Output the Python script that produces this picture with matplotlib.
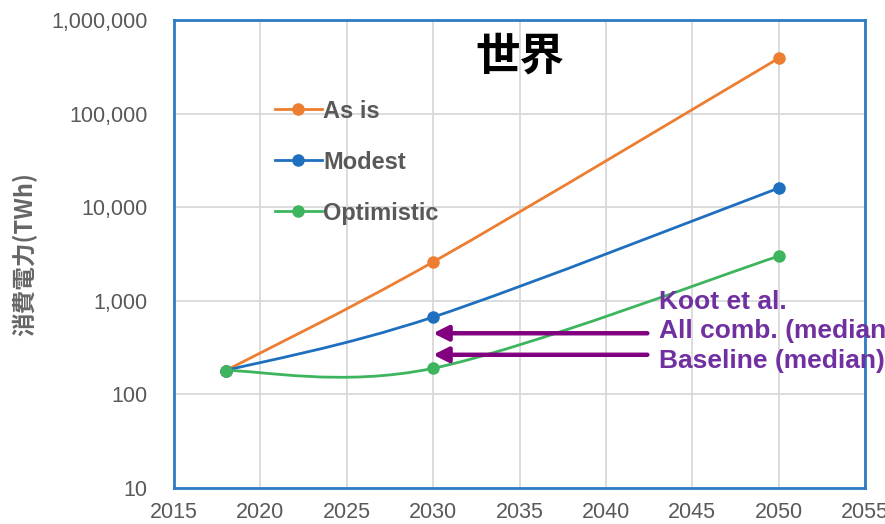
import numpy as np
import matplotlib
matplotlib.use("Agg")
import matplotlib.pyplot as plt
from matplotlib.path import Path
from matplotlib.patches import PathPatch
from matplotlib.lines import Line2D
from matplotlib.ticker import FixedLocator, FuncFormatter

plt.rcParams['font.family'] = ['Liberation Sans', 'Noto Sans CJK JP', 'DejaVu Sans']

# Electricity consumption scenarios (TWh)
years = [2018, 2030, 2050]
as_is = [180, 2600, 390000]
modest = [180, 670, 16000]
optimistic = [180, 190, 3000]
series_names = ["As is", "Modest", "Optimistic"]
series_colors = ["#ED7D31", "#1F6FBF", "#3DB55E"]

# Koot et al. reference medians for 2030
koot_year = 2030
koot_values = [450, 265]
koot_labels = ["Koot et al.", "All comb. (median)", "Baseline (median)"]

title = "世界"
ylabel = "消費電力(TWh)"
x_ticks = [2015, 2020, 2025, 2030, 2035, 2040, 2045, 2050, 2055]
y_ticks = [10, 100, 1000, 10000, 100000, 1000000]

TEXT_GRAY = "#595959"


def smooth_path(xs, ys):
    """Catmull-Rom style cubic Bezier through the points, built in (x, log10 y)."""
    px = np.asarray(xs, dtype=float)
    py = np.log10(np.asarray(ys, dtype=float))
    n = len(px)
    verts = [(px[0], 10 ** py[0])]
    codes = [Path.MOVETO]
    for i in range(n - 1):
        i0 = max(i - 1, 0)
        i3 = min(i + 2, n - 1)
        c1x = px[i] + (px[i + 1] - px[i0]) / 6.0
        c1y = py[i] + (py[i + 1] - py[i0]) / 6.0
        c2x = px[i + 1] - (px[i3] - px[i]) / 6.0
        c2y = py[i + 1] - (py[i3] - py[i]) / 6.0
        verts += [(c1x, 10 ** c1y), (c2x, 10 ** c2y), (px[i + 1], 10 ** py[i + 1])]
        codes += [Path.CURVE4] * 3
    return Path(verts, codes)


fig = plt.figure(figsize=(8.85, 5.24), dpi=100)
ax = fig.add_axes([174 / 885, 1 - 488 / 524, 691 / 885, 468 / 524])

ax.set_yscale("log")
ax.set_xlim(2015, 2055)
ax.set_ylim(10, 1000000)

ax.grid(True, which="major", color="#D9D9D9", linewidth=1.3)
ax.set_axisbelow(True)
ax.xaxis.set_major_locator(FixedLocator(x_ticks))
ax.yaxis.set_major_locator(FixedLocator(y_ticks))
ax.yaxis.set_minor_locator(FixedLocator([]))
ax.yaxis.set_major_formatter(FuncFormatter(lambda v, p: f"{int(round(v)):,}"))
ax.tick_params(axis="both", length=0, labelsize=15.5, labelcolor=TEXT_GRAY)
ax.tick_params(axis="x", pad=10)
ax.tick_params(axis="y", pad=19)

for sp in ax.spines.values():
    sp.set_color("#2E7BC4")
    sp.set_linewidth(2.0)

handles = []
for vals, name, col in zip([as_is, modest, optimistic], series_names, series_colors):
    ax.add_patch(PathPatch(smooth_path(years, vals), facecolor="none",
                           edgecolor=col, linewidth=2.0, zorder=3))
    ax.plot(years, vals, linestyle="none", marker="o", markersize=8,
            color=col, zorder=4, clip_on=False)
    handles.append(Line2D([], [], color=col, linewidth=2.0, marker="o",
                          markersize=8, label=name))

leg = ax.legend(handles=handles, loc="upper left", bbox_to_anchor=(0.146, 0.83),
                frameon=False, borderpad=0, borderaxespad=0, handlelength=2.0,
                handletextpad=0.05, labelspacing=1.19,
                prop={"size": 17, "weight": "bold"})
for t in leg.get_texts():
    t.set_color(TEXT_GRAY)

ax.text(0.5, 0.922, title, transform=ax.transAxes, ha="center", va="center",
        fontsize=32, fontweight="bold", color="black",
        family=["Noto Sans CJK JP", "DejaVu Sans"])

ax.set_ylabel(ylabel, fontsize=17, color="#666666", fontweight="bold",
              family=["Noto Sans CJK JP", "DejaVu Sans"], labelpad=10)

# Arrows pointing at the Koot et al. medians
for v in koot_values:
    ax.annotate("", xy=(koot_year, v), xytext=(2042.4, v),
                arrowprops=dict(arrowstyle="-|>,head_length=0.9,head_width=0.45",
                                color="#800080", lw=3.2, shrinkA=0, shrinkB=0),
                zorder=5)

ax.text(2043.1, 470, "\n".join(koot_labels), ha="left", va="center",
        fontsize=19, fontweight="bold", color="#7030A0", linespacing=1.27,
        clip_on=False, zorder=6)

fig.savefig("out.png", dpi=100)
